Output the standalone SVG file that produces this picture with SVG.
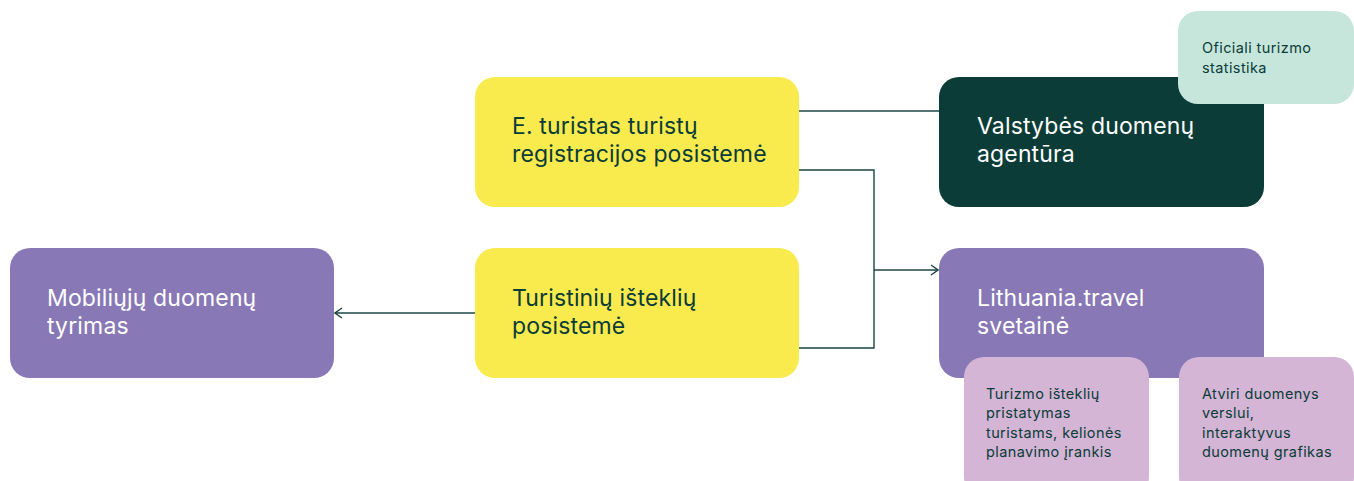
<svg xmlns="http://www.w3.org/2000/svg" width="1354" height="481" viewBox="0 0 1354 481">
<style>
.lbl{font-family:Inter,"Noto Sans","Liberation Sans",sans-serif;font-size:23px;letter-spacing:0.15px;fill:#0b3c38}
.lw{fill:#ffffff}
.sm{font-family:Inter,"Noto Sans","Liberation Sans",sans-serif;font-size:14.5px;letter-spacing:0.4px;fill:#0b3c38}
.conn{fill:none;stroke:#1b4543;stroke-width:1.4}
</style>
<defs>
<marker id="arr" viewBox="0 0 12 12" refX="11" refY="6" markerWidth="12" markerHeight="12" markerUnits="userSpaceOnUse" orient="auto">
<path d="M4,1 L11,6 L4,11" fill="none" stroke="#1b4543" stroke-width="1.4"/>
</marker>
</defs>
<rect width="1354" height="481" fill="#ffffff"/>
<g id="connectors">
<path class="conn" d="M799,111 H939"/>
<path class="conn" d="M799,170 H874 V348 H799"/>
<path class="conn" d="M874,270 H938" marker-end="url(#arr)"/>
<path class="conn" d="M475,313 H335" marker-end="url(#arr)"/>
</g>
<g id="node-mobiliuju">
<rect x="10" y="248" width="324" height="130" rx="20" fill="#8878b6"/>
<text class="lbl lw"><tspan x="47" y="306">Mobiliųjų duomenų</tspan><tspan x="47" y="334">tyrimas</tspan></text>
</g>
<g id="node-eturistas">
<rect x="475" y="77" width="324" height="130" rx="20" fill="#f9ea4e"/>
<text class="lbl"><tspan x="512" y="134">E. turistas turistų</tspan><tspan x="512" y="162">registracijos posistemė</tspan></text>
</g>
<g id="node-turistiniu">
<rect x="475" y="248" width="324" height="130" rx="20" fill="#f9ea4e"/>
<text class="lbl"><tspan x="512" y="306">Turistinių išteklių</tspan><tspan x="512" y="334">posistemė</tspan></text>
</g>
<g id="node-valstybes">
<rect x="939" y="77" width="325" height="130" rx="20" fill="#0b3c38"/>
<text class="lbl lw"><tspan x="977" y="134">Valstybės duomenų</tspan><tspan x="977" y="162">agentūra</tspan></text>
</g>
<g id="node-oficiali">
<rect x="1178" y="11" width="176" height="93" rx="20" fill="#c6e6dc"/>
<text class="sm"><tspan x="1202" y="53">Oficiali turizmo</tspan><tspan x="1202" y="73">statistika</tspan></text>
</g>
<g id="node-lithuania">
<rect x="939" y="248" width="325" height="130" rx="20" fill="#8878b6"/>
<text class="lbl lw"><tspan x="977" y="306">Lithuania.travel</tspan><tspan x="977" y="334">svetainė</tspan></text>
</g>
<g id="node-turizmo">
<rect x="964" y="357" width="185" height="140" rx="20" fill="#d4b5d6"/>
<text class="sm"><tspan x="986" y="399">Turizmo išteklių</tspan><tspan x="986" y="418">pristatymas</tspan><tspan x="986" y="438">turistams, kelionės</tspan><tspan x="986" y="457">planavimo įrankis</tspan></text>
</g>
<g id="node-atviri">
<rect x="1179" y="357" width="175" height="140" rx="20" fill="#d4b5d6"/>
<text class="sm"><tspan x="1202" y="399">Atviri duomenys</tspan><tspan x="1202" y="418">verslui,</tspan><tspan x="1202" y="438">interaktyvus</tspan><tspan x="1202" y="457">duomenų grafikas</tspan></text>
</g>
</svg>
